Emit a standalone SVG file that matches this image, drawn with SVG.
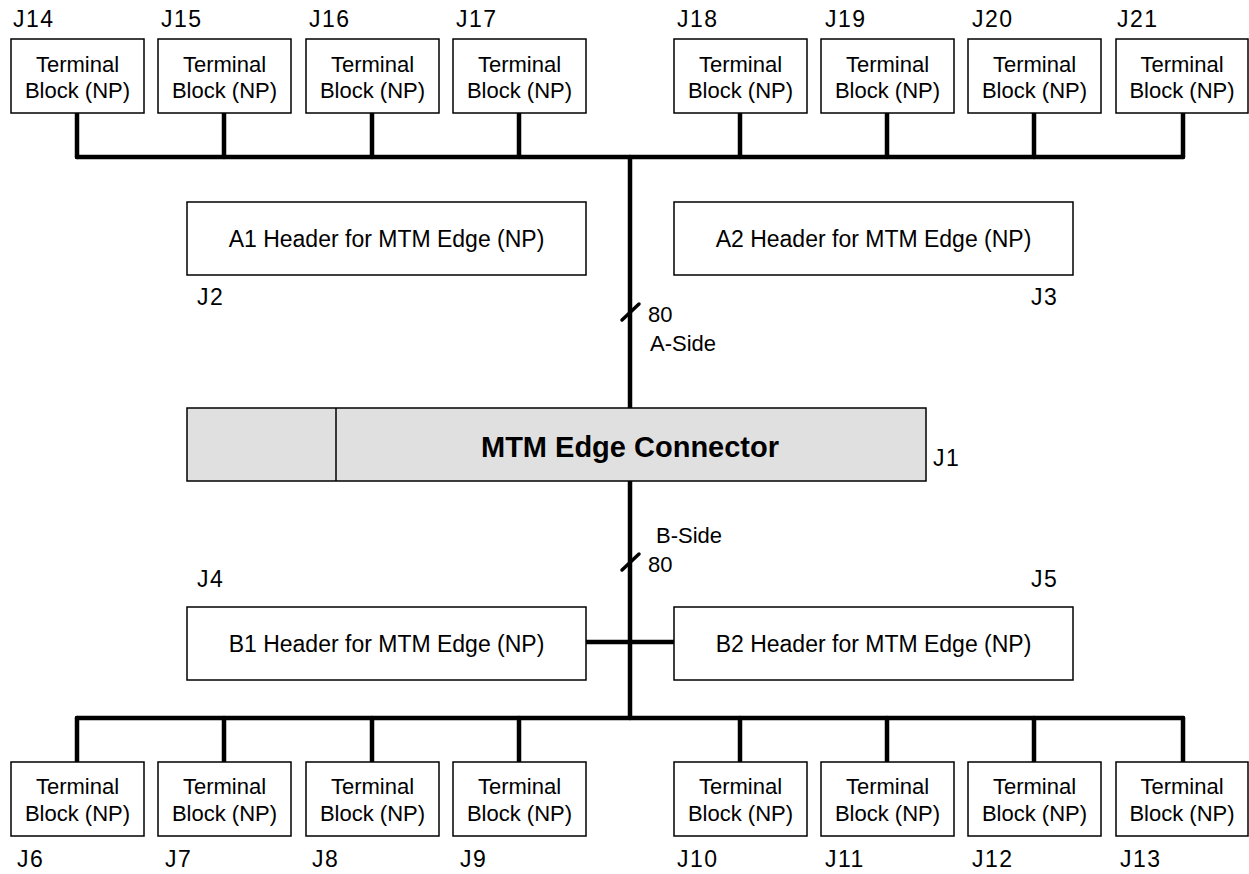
<svg xmlns="http://www.w3.org/2000/svg" width="1249" height="874" viewBox="0 0 1249 874">
<style>
  .box { fill: #ffffff; stroke: #000000; stroke-width: 1.5; }
  .conn { fill: #e0e0e0; stroke: #000000; stroke-width: 1.5; }
  .wire { fill: none; stroke: #000000; stroke-width: 4.5; stroke-linecap: round; }
  .slash { fill: none; stroke: #000000; stroke-width: 3.5; stroke-linecap: round; }
  text { font-family: "Liberation Sans", Arial, Helvetica, sans-serif; font-size: 22px; fill: #000000; }
  .c { text-anchor: middle; }
  .hdr { font-size: 23px; }
  .bold { font-weight: bold; font-size: 29px; }
  .lbl { font-size: 23px; letter-spacing: 1.5px; }
</style>

<g id="connectors">
  <path class="wire" d="M77,157 H1183"/>
  <path class="wire" d="M77,113 V157 M224,113 V157 M372,113 V157 M519,113 V157 M740,113 V157 M887,113 V157 M1034,113 V157 M1183,113 V157"/>
  <path class="wire" d="M630,157 V408"/>
  <path class="slash" d="M622,320 L639,304"/>
  <path class="wire" d="M630,481 V718"/>
  <path class="slash" d="M622,570 L639,554"/>
  <path class="wire" d="M586,642 H674"/>
  <path class="wire" d="M77,718 H1183"/>
  <path class="wire" d="M77,718 V762 M224,718 V762 M372,718 V762 M519,718 V762 M740,718 V762 M887,718 V762 M1034,718 V762 M1183,718 V762"/>
  <text x="648" y="322">80</text>
  <text x="650" y="351">A-Side</text>
  <text x="656" y="543">B-Side</text>
  <text x="648" y="572">80</text>
</g>

<g id="J14"><rect class="box" x="11" y="39" width="133" height="74"/><text class="c" x="77.5" y="72">Terminal</text><text class="c" x="77.5" y="98">Block (NP)</text><text class="lbl" x="13" y="27">J14</text></g>
<g id="J15"><rect class="box" x="158" y="39" width="133" height="74"/><text class="c" x="224.5" y="72">Terminal</text><text class="c" x="224.5" y="98">Block (NP)</text><text class="lbl" x="161" y="27">J15</text></g>
<g id="J16"><rect class="box" x="306" y="39" width="133" height="74"/><text class="c" x="372.5" y="72">Terminal</text><text class="c" x="372.5" y="98">Block (NP)</text><text class="lbl" x="309" y="27">J16</text></g>
<g id="J17"><rect class="box" x="453" y="39" width="133" height="74"/><text class="c" x="519.5" y="72">Terminal</text><text class="c" x="519.5" y="98">Block (NP)</text><text class="lbl" x="456" y="27">J17</text></g>
<g id="J18"><rect class="box" x="674" y="39" width="133" height="74"/><text class="c" x="740.5" y="72">Terminal</text><text class="c" x="740.5" y="98">Block (NP)</text><text class="lbl" x="677" y="27">J18</text></g>
<g id="J19"><rect class="box" x="821" y="39" width="133" height="74"/><text class="c" x="887.5" y="72">Terminal</text><text class="c" x="887.5" y="98">Block (NP)</text><text class="lbl" x="825" y="27">J19</text></g>
<g id="J20"><rect class="box" x="968" y="39" width="133" height="74"/><text class="c" x="1034.5" y="72">Terminal</text><text class="c" x="1034.5" y="98">Block (NP)</text><text class="lbl" x="972" y="27">J20</text></g>
<g id="J21"><rect class="box" x="1116" y="39" width="132" height="74"/><text class="c" x="1182" y="72">Terminal</text><text class="c" x="1182" y="98">Block (NP)</text><text class="lbl" x="1117" y="27">J21</text></g>

<g id="J2"><rect class="box" x="187" y="202" width="399" height="73"/><text class="c hdr" x="386.5" y="247">A1 Header for MTM Edge (NP)</text><text class="lbl" x="197" y="305">J2</text></g>
<g id="J3"><rect class="box" x="674" y="202" width="399" height="73"/><text class="c hdr" x="873.5" y="247">A2 Header for MTM Edge (NP)</text><text class="lbl" x="1031" y="305">J3</text></g>

<g id="J1"><rect class="conn" x="187" y="408" width="739" height="73"/><line x1="336" y1="408" x2="336" y2="481" stroke="#000" stroke-width="1.5"/><text class="c bold" x="630" y="457">MTM Edge Connector</text><text class="lbl" x="933" y="466">J1</text></g>

<g id="J4"><rect class="box" x="187" y="607" width="399" height="73"/><text class="c hdr" x="386.5" y="652">B1 Header for MTM Edge (NP)</text><text class="lbl" x="197" y="587">J4</text></g>
<g id="J5"><rect class="box" x="674" y="607" width="399" height="73"/><text class="c hdr" x="873.5" y="652">B2 Header for MTM Edge (NP)</text><text class="lbl" x="1031" y="587">J5</text></g>

<g id="J6"><rect class="box" x="11" y="762" width="133" height="74"/><text class="c" x="77.5" y="794">Terminal</text><text class="c" x="77.5" y="821">Block (NP)</text><text class="lbl" x="17" y="867">J6</text></g>
<g id="J7"><rect class="box" x="158" y="762" width="133" height="74"/><text class="c" x="224.5" y="794">Terminal</text><text class="c" x="224.5" y="821">Block (NP)</text><text class="lbl" x="165" y="867">J7</text></g>
<g id="J8"><rect class="box" x="306" y="762" width="133" height="74"/><text class="c" x="372.5" y="794">Terminal</text><text class="c" x="372.5" y="821">Block (NP)</text><text class="lbl" x="312" y="867">J8</text></g>
<g id="J9"><rect class="box" x="453" y="762" width="133" height="74"/><text class="c" x="519.5" y="794">Terminal</text><text class="c" x="519.5" y="821">Block (NP)</text><text class="lbl" x="460" y="867">J9</text></g>
<g id="J10"><rect class="box" x="674" y="762" width="133" height="74"/><text class="c" x="740.5" y="794">Terminal</text><text class="c" x="740.5" y="821">Block (NP)</text><text class="lbl" x="677" y="867">J10</text></g>
<g id="J11"><rect class="box" x="821" y="762" width="133" height="74"/><text class="c" x="887.5" y="794">Terminal</text><text class="c" x="887.5" y="821">Block (NP)</text><text class="lbl" x="825" y="867">J11</text></g>
<g id="J12"><rect class="box" x="968" y="762" width="133" height="74"/><text class="c" x="1034.5" y="794">Terminal</text><text class="c" x="1034.5" y="821">Block (NP)</text><text class="lbl" x="972" y="867">J12</text></g>
<g id="J13"><rect class="box" x="1116" y="762" width="132" height="74"/><text class="c" x="1182" y="794">Terminal</text><text class="c" x="1182" y="821">Block (NP)</text><text class="lbl" x="1120" y="867">J13</text></g>
</svg>
